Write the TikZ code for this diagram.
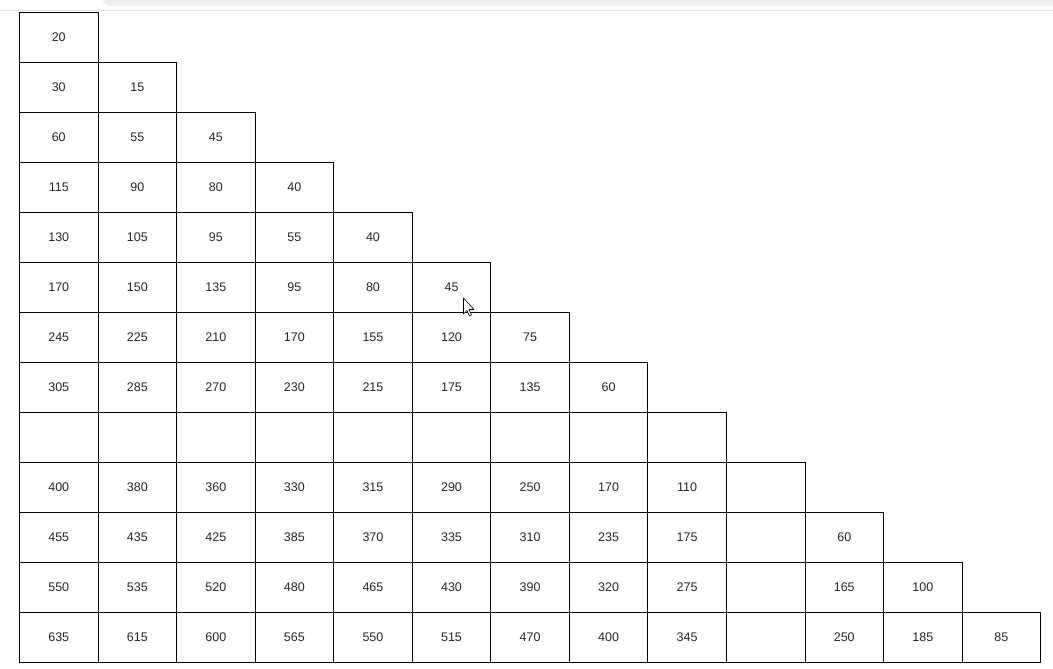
\documentclass[tikz,border=0pt]{standalone}
\usepackage{fontspec}
\setmainfont{Liberation Sans}
\begin{document}
\begin{tikzpicture}[x=1pt,y=-1pt,
  cellbox/.style={draw=black,line width=0.9pt,minimum width=78.6pt,minimum height=50pt,inner sep=0pt,anchor=north west,font=\fontsize{12.5}{14}\selectfont,text=black!85},
  lastbox/.style={cellbox,text depth=-1.2pt},
]
\useasboundingbox (0,0) rectangle (1053,669);
% browser chrome remnants
\fill[black!6,rounded corners=6pt] (103,-10) rectangle (1060,6);
\draw[black!12,line width=1pt] (0,11) -- (1053,11);
% rows: r, list of values
\def\rows{%
0/{20},%
1/{30,15},%
2/{60,55,45},%
3/{115,90,80,40},%
4/{130,105,95,55,40},%
5/{170,150,135,95,80,45},%
6/{245,225,210,170,155,120,75},%
7/{305,285,270,230,215,175,135,60},%
8/{{},{},{},{},{},{},{},{},{}},%
9/{400,380,360,330,315,290,250,170,110,{}},%
10/{455,435,425,385,370,335,310,235,175,{},60},%
11/{550,535,520,480,465,430,390,320,275,{},165,100},%
12/{635,615,600,565,550,515,470,400,345,{},250,185,85}}
\foreach \r/\vals in \rows {
  \foreach \v [count=\c from 0] in \vals {
    \pgfmathsetmacro{\xx}{19+78.55*\c}
    \pgfmathsetmacro{\yy}{12+50*\r}
    \ifnum\c=\r
      \node[cellbox] (cell-\r-\c) at (\xx,\yy) {\raisebox{-1pt}{\v}};
    \else
      \node[cellbox] (cell-\r-\c) at (\xx,\yy) {\v};
    \fi
  }
}
% mouse cursor
\draw[black,fill=white,line width=0.6pt,line join=round]
  (463.5,298) -- (463.5,314) -- (467,310.5) -- (469.5,316) -- (471.5,315) -- (469,309.5) -- (474,309.5) -- cycle;
\end{tikzpicture}
\end{document}
